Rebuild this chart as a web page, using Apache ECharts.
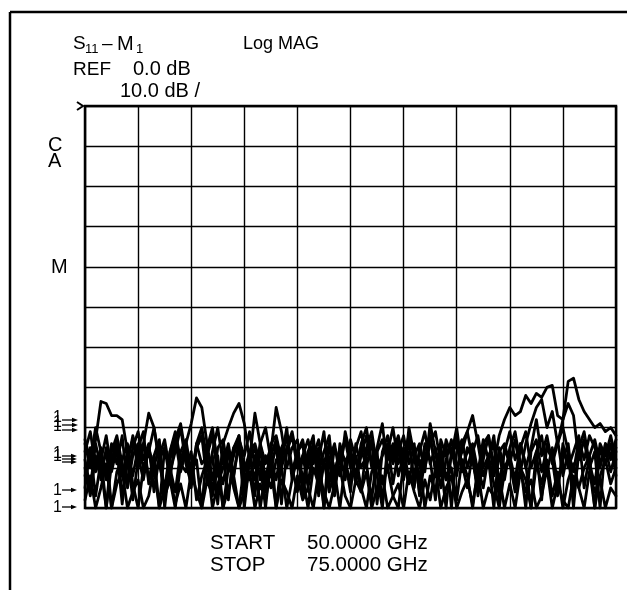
<!DOCTYPE html>
<html>
<head>
<meta charset="utf-8">
<script src="https://cdn.jsdelivr.net/npm/echarts@6/dist/echarts.min.js"></script>
<style>html,body{margin:0;padding:0;background:#fff;}#c{width:627px;height:590px;}</style>
</head>
<body>
<div id="c"></div>
<script>
// Sweep definition
var START_GHZ = 50, STOP_GHZ = 75, POINTS = 101;
var yTicks = [0, -10, -20, -30, -40, -50, -60, -70, -80, -90, -100];

// Overlaid S11 log-magnitude traces (dB), one per measurement
var trace1 = [-84,-90,-83,-73.5,-74,-77,-77,-78,-86,-92,
 -85,-81,-94,-87,-83,-98,-86,-82,-90,-85,
 -93,-84,-80,-88,-96,-85,-83,-91,-87,-82,
 -95,-86,-84,-89,-100,-87,-83,-90,-85,-81,
 -88,-94,-86,-82,-97,-89,-84,-91,-86,-93,
 -83,-88,-96,-85,-81,-90,-87,-84,-94,-86,
 -82,-89,-85,-93,-84,-88,-98,-83,-87,-85,
 -92,-84,-81,-88,-95,-86,-83,-89,-82,-78,
 -75,-77,-76,-72,-74,-71.5,-72.5,-70,-69.5,-77,
 -78,-68.5,-67.7,-73,-76,-78,-80,-79,-81,-80,
 -82];
var trace2 = [-92,-86,-97,-88,-82,-91,-85,-99,-87,-83,
 -90,-84,-76.4,-80,-89,-95,-86,-81,-88,-84,
 -79,-72.6,-75,-84,-93,-87,-100,-90,-85,-82,
 -91,-86,-97,-84,-80,-88,-93,-85,-82,-90,
 -96,-87,-83,-89,-85,-100,-88,-84,-92,-81,
 -87,-94,-85,-90,-83,-99,-86,-82,-89,-84,
 -93,-80,-87,-96,-85,-82,-91,-88,-84,-100,
 -86,-83,-90,-85,-97,-88,-82,-92,-86,-84,
 -89,-95,-85,-81,-90,-86,-98,-84,-88,-83,
 -92,-86,-100,-85,-81,-89,-94,-84,-87,-82,
 -88];
var trace3 = [-88,-95,-84,-90,-100,-86,-82,-89,-93,-85,
 -81,-88,-84,-96,-87,-83,-91,-86,-80,-89,
 -94,-85,-82,-90,-87,-99,-84,-80,-76.4,-74,
 -79,-88,-76.4,-84,-93,-86,-75,-81,-90,-85,
 -83,-97,-88,-84,-91,-86,-82,-95,-87,-83,
 -90,-85,-81,-89,-98,-86,-83,-88,-84,-92,
 -87,-82,-95,-85,-90,-84,-81,-89,-100,-86,
 -83,-91,-85,-88,-96,-84,-82,-90,-87,-93,
 -85,-81,-89,-100,-86,-83,-91,-85,-88,-97,
 -84,-90,-86,-82,-95,-87,-83,-89,-85,-91,
 -86];
var trace4 = [-95,-85,-91,-87,-100,-89,-83,-92,-86,-98,
 -88,-84,-93,-87,-100,-85,-90,-96,-86,-83,
 -91,-88,-100,-85,-80,-89,-94,-86,-92,-84,
 -100,-88,-85,-93,-87,-91,-84,-99,-86,-82,
 -90,-87,-94,-85,-89,-100,-84,-91,-86,-88,
 -96,-84,-90,-87,-83,-92,-100,-86,-80,-89,
 -85,-93,-87,-84,-91,-79,-86,-95,-88,-83,
 -90,-86,-81,-77,-84,-92,-88,-100,-85,-90,
 -87,-93,-84,-89,-100,-86,-82,-91,-85,-94,
 -88,-84,-96,-87,-83,-90,-100,-85,-89,-84,
 -92];
var trace5 = [-86,-81,-90,-85,-93,-88,-84,-97,-89,-82,
 -87,-93,-85,-90,-84,-100,-88,-83,-91,-86,
 -95,-84,-89,-87,-82,-92,-86,-98,-85,-83,
 -90,-87,-93,-84,-89,-85,-100,-88,-82,-91,
 -86,-84,-95,-87,-83,-90,-88,-97,-84,-89,
 -85,-93,-87,-82,-90,-86,-99,-84,-88,-83,
 -91,-86,-84,-97,-88,-82,-90,-85,-93,-87,
 -84,-89,-95,-86,-82,-90,-87,-84,-98,-85,
 -89,-83,-91,-84,-79,-75,-73,-80,-76,-84,
 -78,-74,-77,-88,-83,-90,-86,-100,-84,-88,
 -85];
var trace6 = [-90,-97,-87,-93,-85,-100,-91,-88,-84,-94,
 -100,-90,-86,-92,-88,-97,-93,-100,-89,-91,
 -86,-98,-92,-88,-100,-94,-90,-86,-95,-100,
 -89,-93,-87,-100,-91,-95,-88,-90,-100,-93,
 -87,-92,-100,-90,-94,-88,-96,-91,-100,-89,
 -93,-87,-95,-100,-91,-88,-94,-90,-97,-100,
 -89,-94,-91,-88,-100,-92,-96,-87,-93,-90,
 -98,-88,-92,-100,-90,-95,-87,-94,-100,-91,
 -88,-96,-90,-93,-100,-89,-94,-88,-97,-91,
 -100,-93,-89,-95,-90,-87,-100,-92,-88,-94,
 -90];
var trace7 = [-83,-88,-80,-86,-92,-84,-89,-82,-95,-87,
 -84,-90,-86,-80,-88,-85,-93,-83,-79,-87,
 -91,-85,-82,-94,-86,-80,-89,-84,-92,-83,
 -87,-81,-90,-85,-96,-84,-82,-88,-80,-93,
 -86,-83,-90,-84,-88,-81,-94,-85,-89,-83,
 -87,-92,-84,-80,-89,-85,-79,-91,-86,-82,
 -88,-84,-93,-86,-81,-89,-85,-92,-83,-87,
 -80,-90,-86,-84,-91,-83,-88,-82,-94,-86,
 -81,-88,-84,-90,-85,-78,-87,-82,-89,-84,
 -80,-86,-91,-83,-88,-82,-85,-90,-84,-87,
 -83];
var trace8 = [-98,-92,-100,-95,-89,-100,-94,-91,-100,-96,
 -93,-100,-97,-90,-100,-95,-92,-99,-94,-100,
 -91,-96,-100,-93,-97,-90,-100,-95,-92,-100,
 -96,-91,-100,-94,-98,-90,-100,-93,-96,-100,
 -92,-98,-95,-100,-91,-96,-100,-94,-90,-97,
 -100,-93,-96,-91,-100,-95,-92,-100,-97,-94,
 -100,-91,-96,-100,-93,-98,-90,-100,-95,-92,
 -100,-96,-93,-99,-91,-100,-95,-97,-92,-100,
 -94,-100,-91,-96,-93,-100,-97,-90,-100,-94,
 -98,-100,-92,-95,-100,-91,-96,-93,-100,-95,
 -97];
var traces = [trace1, trace2, trace3, trace4, trace5, trace6, trace7, trace8];

// Header / footer texts
var titleParam = 'S', titleSub = '11', titleDash = '–', titleMem = 'M', titleMemSub = '1';
var formatText = 'Log MAG';
var refLabel = 'REF', refValue = '0.0 dB';
var scaleText = '10.0 dB /';
var startLabel = 'START', startValue = '50.0000 GHz';
var stopLabel = 'STOP', stopValue = '75.0000 GHz';

var FONT = '"Liberation Sans", Arial, Helvetica, sans-serif';

var chart = echarts.init(document.getElementById('c'), null, {renderer: 'canvas'});

var series = traces.map(function (t) {
  return {
    type: 'line',
    data: t.map(function (v, i) {
      return [START_GHZ + i * (STOP_GHZ - START_GHZ) / (POINTS - 1), v];
    }),
    showSymbol: false,
    symbol: 'none',
    lineStyle: {color: '#000', width: 2.8, join: 'round', cap: 'round'},
    animation: false,
    z: 3
  };
});

function txt(x, y, s, size, extra) {
  var o = {type: 'text', x: x, y: y, style: {text: s, fill: '#000', font: size + 'px ' + FONT, textAlign: 'left', textVerticalAlign: 'middle', verticalAlign: 'middle'}, z: 10};
  if (extra) for (var k in extra) o.style[k] = extra[k];
  return o;
}
function arrow(x1, x2, y) {
  return [
    {type: 'line', shape: {x1: x1, y1: y, x2: x2 - 4, y2: y}, style: {stroke: '#000', lineWidth: 1.3}, z: 10},
    {type: 'polygon', shape: {points: [[x2 - 6, y - 2.3], [x2, y], [x2 - 6, y + 2.3]]}, style: {fill: '#000'}, z: 10}
  ];
}

var graphics = [
  {type: 'line', shape: {x1: 10, y1: 12, x2: 627, y2: 12}, style: {stroke: '#000', lineWidth: 2.5}},
  {type: 'line', shape: {x1: 10, y1: 12, x2: 10, y2: 590}, style: {stroke: '#000', lineWidth: 2.5}},
  {type: 'polyline', shape: {points: [[77, 102], [83, 106], [77, 110]]}, style: {stroke: '#000', lineWidth: 2, fill: null}, z: 10},
  txt(73, 44, titleParam, 19),
  txt(85, 49, titleSub, 13),
  txt(102, 44, titleDash, 19),
  txt(117, 44, titleMem, 20),
  txt(136, 49, titleMemSub, 13),
  txt(243, 44, formatText, 18),
  txt(73, 69.5, refLabel, 19),
  txt(133, 69.5, refValue, 20),
  txt(120, 91.5, scaleText, 20),
  txt(48, 145, 'C', 20),
  txt(48, 161, 'A', 20),
  txt(51, 267, 'M', 20),
  txt(210, 543, startLabel, 20.5),
  txt(307, 543, startValue, 20.5),
  txt(210, 565, stopLabel, 20.5),
  txt(307, 565, stopValue, 20.5),
  txt(53, 418, '1', 16),
  txt(53, 423, '1', 16),
  txt(53, 427, '1', 16),
  txt(53, 454, '1', 16),
  txt(53, 457, '1', 16),
  txt(53, 491, '1', 16),
  txt(53, 508, '1', 16)
];
[420, 425, 430].forEach(function (y) { graphics = graphics.concat(arrow(62, 78, y)); });
[456, 459, 462].forEach(function (y) { graphics = graphics.concat(arrow(62, 77, y)); });
graphics = graphics.concat(arrow(62, 77, 490));
graphics = graphics.concat(arrow(62, 77, 507));

chart.setOption({
  animation: false,
  backgroundColor: '#fff',
  grid: {left: 85, top: 106, right: 11, bottom: 82, show: true, borderColor: '#000', borderWidth: 2.5, backgroundColor: 'transparent'},
  xAxis: {
    type: 'value', min: START_GHZ, max: STOP_GHZ, interval: (STOP_GHZ - START_GHZ) / 10,
    axisLine: {show: false}, axisTick: {show: false}, axisLabel: {show: false},
    splitLine: {show: true, lineStyle: {color: '#000', width: 1.4}}
  },
  yAxis: {
    type: 'value', min: yTicks[yTicks.length - 1], max: yTicks[0], interval: 10,
    axisLine: {show: false}, axisTick: {show: false}, axisLabel: {show: false},
    splitLine: {show: true, lineStyle: {color: '#000', width: 1.4}}
  },
  series: series,
  graphic: {elements: graphics}
});
</script>
</body>
</html>
